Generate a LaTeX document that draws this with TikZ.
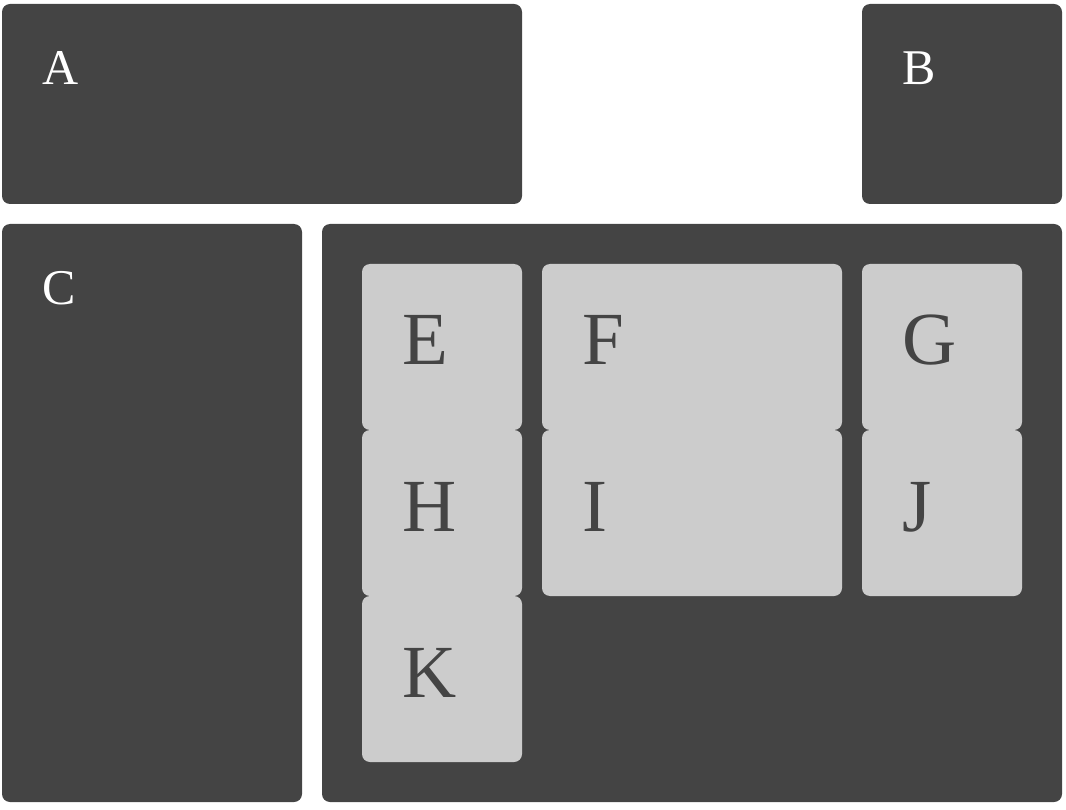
\documentclass[tikz,border=0pt]{standalone}
\usepackage{fontspec}
\setmainfont{Liberation Serif}
\definecolor{darkgray4}{HTML}{444444}
\definecolor{lightgray4}{HTML}{CCCCCC}
\begin{document}
\begin{tikzpicture}[x=1pt,y=-1pt,
  panel/.style={draw=none, rounded corners=8pt, inner sep=0pt, outer sep=0pt, anchor=north west},
  darkpanel/.style={panel, fill=darkgray4},
  lightpanel/.style={panel, fill=lightgray4},
  whitelabel/.style={anchor=base west, inner sep=0pt, text=white, font=\fontsize{50}{50}\selectfont},
  graylabel/.style={anchor=base west, inner sep=0pt, text=darkgray4, font=\fontsize{75}{75}\selectfont}]
\useasboundingbox (0,0) rectangle (1066,810);
% dark panels
\node[darkpanel, minimum width=520pt, minimum height=200pt] (A) at (2,4) {};
\node[darkpanel, minimum width=200pt, minimum height=200pt] (B) at (862,4) {};
\node[darkpanel, minimum width=300pt, minimum height=578pt] (C) at (2,224) {};
\node[darkpanel, minimum width=740pt, minimum height=578pt] (D) at (322,224) {};
% light panels
\node[lightpanel, minimum width=160pt, minimum height=166pt] (E) at (362,264) {};
\node[lightpanel, minimum width=300pt, minimum height=166pt] (F) at (542,264) {};
\node[lightpanel, minimum width=160pt, minimum height=166pt] (G) at (862,264) {};
\node[lightpanel, minimum width=160pt, minimum height=166pt] (H) at (362,430) {};
\node[lightpanel, minimum width=300pt, minimum height=166pt] (I) at (542,430) {};
\node[lightpanel, minimum width=160pt, minimum height=166pt] (J) at (862,430) {};
\node[lightpanel, minimum width=160pt, minimum height=166pt] (K) at (362,596) {};
% labels
\node[whitelabel] (Alab) at (42,85) {A};
\node[whitelabel] (Blab) at (902,85) {B};
\node[whitelabel] (Clab) at (42,305) {C};
\node[graylabel] (Elab) at (402,365) {E};
\node[graylabel] (Flab) at (582,365) {F};
\node[graylabel] (Glab) at (902,365) {G};
\node[graylabel] (Hlab) at (402,531) {H};
\node[graylabel] (Ilab) at (582,531) {I};
\node[graylabel] (Jlab) at (902,531) {J};
\node[graylabel] (Klab) at (402,697) {K};
\end{tikzpicture}
\end{document}
